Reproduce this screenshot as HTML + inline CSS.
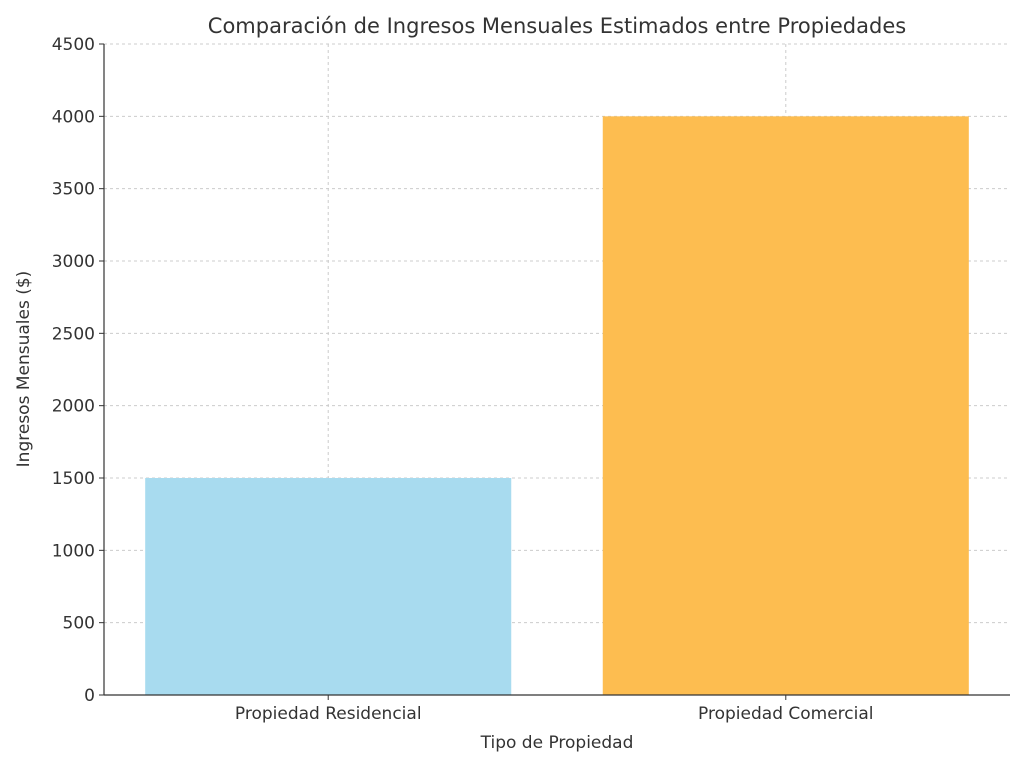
<!DOCTYPE html>
<html><head><meta charset="utf-8"><style>
body{margin:0;background:#fff;}
svg{display:block;font-family:"DejaVu Sans","Liberation Sans",sans-serif;}
</style></head><body>
<svg id="chart" width="1024" height="765"></svg>
<script>
const categories=["Propiedad Residencial","Propiedad Comercial"];
const values=[1500,4000];
const colors=["#a8dbef","#fdbd50"];
const yTicks=[0,500,1000,1500,2000,2500,3000,3500,4000,4500];
const L=104,R=1010,B=695,T=44;
const yMax=4500;
const y=v=>B-(v/yMax)*(B-T);
const x=i=>L+(i+0.49)*(R-L)/1.98;
const bw=0.8*(R-L)/1.98;
const svg=document.getElementById('chart');
const NS="http://www.w3.org/2000/svg";
function mk(t,a){const e=document.createElementNS(NS,t);for(const k in a)e.setAttribute(k,a[k]);svg.appendChild(e);return e;}
yTicks.forEach(v=>{
  const g=mk('line',{x1:L,x2:R,y1:y(v),y2:y(v),stroke:'#cccccc','stroke-dasharray':'3,3','stroke-width':1});
  
  
  const tk=mk('line',{x1:L-5,x2:L,y1:y(v),y2:y(v),stroke:'#333'});
  
  
  const t=mk('text',{x:L-9,y:y(v)+6,'text-anchor':'end','font-size':17,fill:'#333'});
  t.textContent=v;
  
  
});
categories.forEach((c,i)=>{
  const g=mk('line',{x1:x(i),x2:x(i),y1:T,y2:B,stroke:'#cccccc','stroke-dasharray':'3,3'});
  
  
});
categories.forEach((c,i)=>{
  const r=mk('rect',{x:x(i)-bw/2,y:y(values[i]),width:bw,height:B-y(values[i]),fill:colors[i]});
  
  
  const tk=mk('line',{x1:x(i),x2:x(i),y1:B,y2:B+5,stroke:'#333'});
  
  
  const t=mk('text',{x:x(i),y:B+24,'text-anchor':'middle','font-size':17,fill:'#333'});
  t.textContent=c;
  
  
});
const ax=mk('line',{x1:L,x2:L,y1:T,y2:B,stroke:'#333','stroke-width':1.2});


const bx=mk('line',{x1:L,x2:R,y1:B,y2:B,stroke:'#333','stroke-width':1.2});


const title=mk('text',{x:557,y:33,'text-anchor':'middle','font-size':21,fill:'#333'});
title.textContent="Comparación de Ingresos Mensuales Estimados entre Propiedades";


const xt=mk('text',{x:557,y:748,'text-anchor':'middle','font-size':17,fill:'#333'});
xt.textContent="Tipo de Propiedad";


const yt=mk('text',{x:0,y:0,'text-anchor':'middle','font-size':17,fill:'#333',transform:'translate(29,369) rotate(-90)'});
yt.textContent="Ingresos Mensuales ($)";


</script>
</body></html>
